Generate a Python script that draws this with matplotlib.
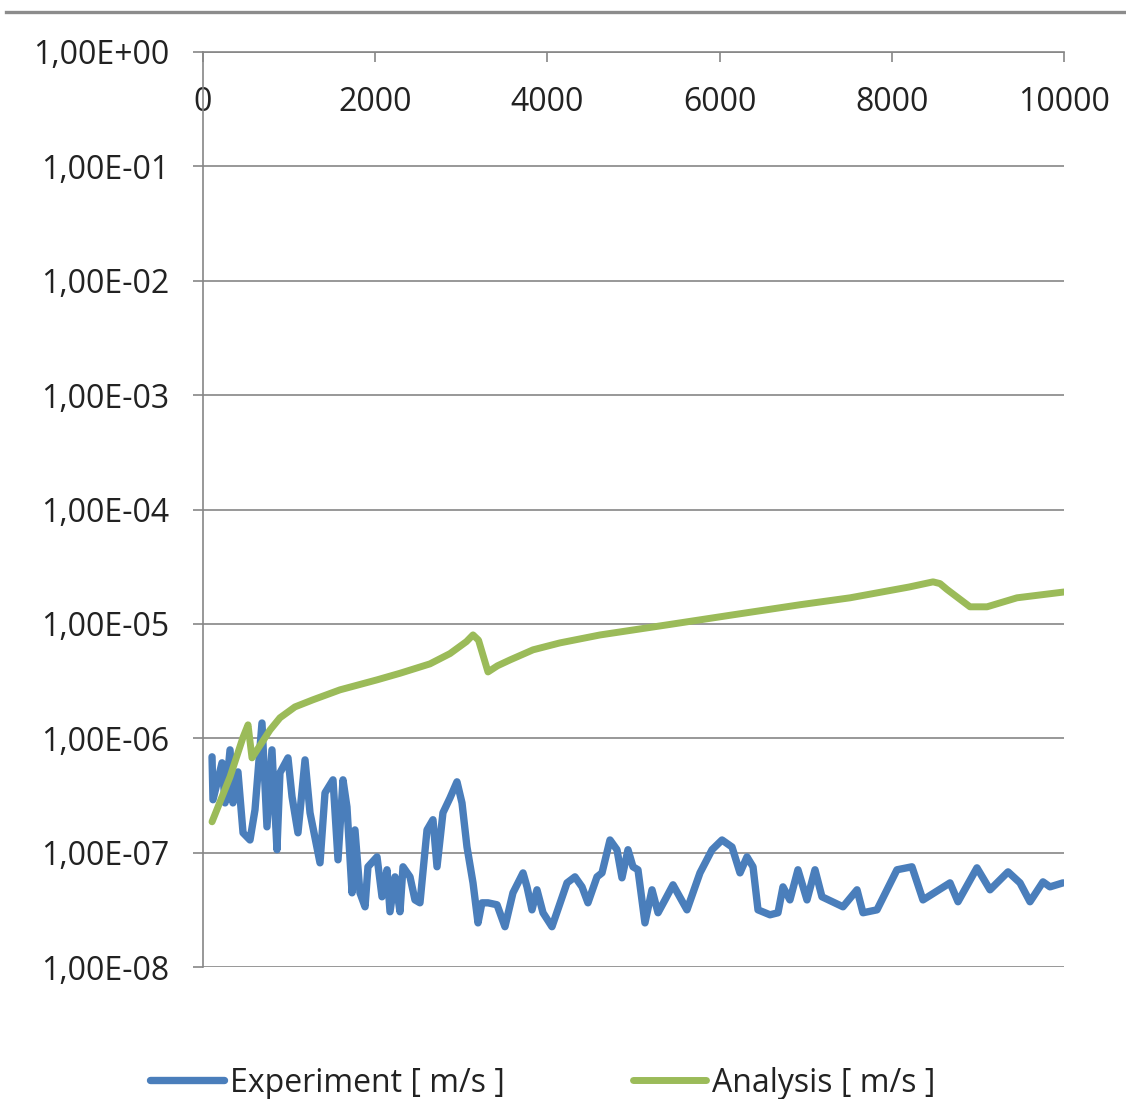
import matplotlib
matplotlib.use("Agg")
import matplotlib.pyplot as plt
from matplotlib.lines import Line2D
from matplotlib.ticker import FixedLocator, FuncFormatter, NullLocator

plt.rcParams['font.family'] = ['Open Sans', 'DejaVu Sans']

# Measured velocity (experiment)
exp_time = [105, 116, 221, 256, 314, 348, 406, 465, 546, 604, 685, 743, 801, 859, 894,
            987, 1034, 1103, 1185, 1243, 1359, 1417, 1510, 1568, 1626, 1672, 1731, 1765,
            1823, 1882, 1916, 2021, 2079, 2137, 2172, 2230, 2288, 2323, 2404, 2462, 2520,
            2602, 2671, 2718, 2787, 2869, 2950, 3008, 3066, 3136, 3194, 3240, 3310, 3415,
            3507, 3600, 3717, 3763, 3821, 3879, 3949, 4053, 4228, 4320, 4402, 4471, 4576,
            4634, 4727, 4808, 4866, 4936, 4994, 5052, 5133, 5215, 5285, 5366, 5459, 5621,
            5772, 5912, 6028, 6144, 6237, 6318, 6388, 6446, 6585, 6678, 6736, 6817, 6910,
            7015, 7108, 7189, 7433, 7596, 7665, 7828, 8060, 8234, 8362, 8676, 8769, 8989,
            9141, 9350, 9489, 9605, 9756, 9837, 9988]
exp_vel = [6.88e-7, 2.90e-7, 6.10e-7, 2.72e-7, 7.92e-7, 2.72e-7, 5.08e-7, 1.49e-7, 1.29e-7,
           2.37e-7, 1.36e-6, 1.68e-7, 7.92e-7, 1.06e-7, 4.99e-7, 6.74e-7, 3.08e-7, 1.49e-7,
           6.47e-7, 2.23e-7, 8.14e-8, 3.33e-7, 4.33e-7, 8.65e-8, 4.33e-7, 2.51e-7, 4.45e-8,
           1.58e-7, 4.45e-8, 3.36e-8, 7.52e-8, 9.18e-8, 4.11e-8, 7.08e-8, 3.04e-8, 6.14e-8,
           3.04e-8, 7.52e-8, 6.14e-8, 3.86e-8, 3.64e-8, 1.58e-7, 1.94e-7, 7.52e-8, 2.23e-7,
           3.01e-7, 4.16e-7, 2.72e-7, 1.12e-7, 5.44e-8, 2.43e-8, 3.64e-8, 3.64e-8, 3.50e-8,
           2.25e-8, 4.45e-8, 6.65e-8, 5.02e-8, 3.16e-8, 4.73e-8, 2.98e-8, 2.25e-8, 5.44e-8,
           6.14e-8, 5.02e-8, 3.64e-8, 6.14e-8, 6.65e-8, 1.29e-7, 1.06e-7, 6.02e-8, 1.06e-7,
           7.52e-8, 7.08e-8, 2.43e-8, 4.73e-8, 2.98e-8, 3.86e-8, 5.23e-8, 3.16e-8, 6.65e-8,
           1.06e-7, 1.29e-7, 1.12e-7, 6.65e-8, 9.18e-8, 7.52e-8, 3.16e-8, 2.86e-8, 2.98e-8,
           5.02e-8, 3.86e-8, 7.08e-8, 3.86e-8, 7.08e-8, 4.11e-8, 3.36e-8, 4.73e-8, 2.98e-8,
           3.16e-8, 7.08e-8, 7.52e-8, 3.86e-8, 5.44e-8, 3.72e-8, 7.36e-8, 4.73e-8, 6.79e-8,
           5.44e-8, 3.72e-8, 5.55e-8, 5.02e-8, 5.44e-8]

# Computed velocity (analysis)
ana_time = [105, 314, 465, 523, 569, 778, 894, 1068, 1278, 1591, 2021, 2288, 2636, 2869,
            3060, 3136, 3200, 3310, 3420, 3566, 3833, 4146, 4611, 5389, 6156, 6934, 7515,
            8200, 8479, 8560, 8641, 8908, 9106, 9454, 10000]
ana_vel = [1.86e-7, 4.6e-7, 1.02e-6, 1.31e-6, 6.74e-7, 1.18e-6, 1.51e-6, 1.88e-6, 2.17e-6,
           2.65e-6, 3.24e-6, 3.70e-6, 4.47e-6, 5.50e-6, 7.0e-6, 8.01e-6, 7.2e-6, 3.80e-6,
           4.30e-6, 4.84e-6, 5.93e-6, 6.82e-6, 8.0e-6, 9.8e-6, 1.2e-5, 1.47e-5, 1.69e-5,
           2.10e-5, 2.33e-5, 2.25e-5, 2.0e-5, 1.41e-5, 1.41e-5, 1.69e-5, 1.9e-5]

x_ticks = [0, 2000, 4000, 6000, 8000, 10000]
y_ticks = [1e-8, 1e-7, 1e-6, 1e-5, 1e-4, 1e-3, 1e-2, 1e-1, 1e0]

axis_gray = '#868686'
fs = 23


def sci_comma(v, pos):
    mant, exp = ('%.2E' % v).split('E')
    sign = exp[0]
    digits = exp[1:].zfill(2)
    return mant.replace('.', ',') + 'E' + sign + digits


fig = plt.figure(figsize=(11.26, 10.99), dpi=100)
ax = fig.add_axes([203/1126, 1 - 967/1099, (1064 - 203)/1126, (967 - 52)/1099])

ax.plot(exp_time, exp_vel, color='#4A7EBB', lw=5.3, solid_joinstyle='round',
        solid_capstyle='round', label='Experiment [ m/s ]', zorder=3)
ax.plot(ana_time, ana_vel, color='#9BBB59', lw=5.0, solid_joinstyle='round',
        solid_capstyle='round', label='Analysis [ m/s ]', zorder=4)

ax.set_yscale('log')
ax.set_xlim(0, 10000)
ax.set_ylim(1e-8, 1e0)
ax.yaxis.set_major_locator(FixedLocator(y_ticks))
ax.yaxis.set_minor_locator(NullLocator())
ax.yaxis.set_major_formatter(FuncFormatter(sci_comma))
ax.set_xticks(x_ticks)
ax.set_xticklabels([str(t) for t in x_ticks])

ax.grid(axis='y', color=axis_gray, lw=1.2)
ax.set_axisbelow(True)
for side in ('right', 'bottom'):
    ax.spines[side].set_visible(False)
for side in ('left', 'top'):
    ax.spines[side].set_color(axis_gray)
    ax.spines[side].set_linewidth(1.2)

ax.tick_params(axis='y', direction='out', length=7, width=1.2, color=axis_gray,
               labelsize=fs, pad=17, labelcolor='#222222')
ax.tick_params(axis='x', top=True, bottom=False, labeltop=True, labelbottom=False,
               direction='in', length=7, width=1.2, color=axis_gray,
               labelsize=fs, pad=-48, labelcolor='#222222')

fig.legend(loc='center', bbox_to_anchor=(543/1126, 1 - 1083/1099), ncol=2,
           frameon=False, fontsize=fs, handlelength=2.3, handletextpad=0.2,
           columnspacing=4.0, labelcolor='#222222')

# thin rule across the top of the figure
fig.add_artist(Line2D([6/1126, 1.0], [1 - 12/1099, 1 - 12/1099],
                      transform=fig.transFigure, color='#8C8C8C', lw=2.4))

fig.savefig('out.png', dpi=100)
